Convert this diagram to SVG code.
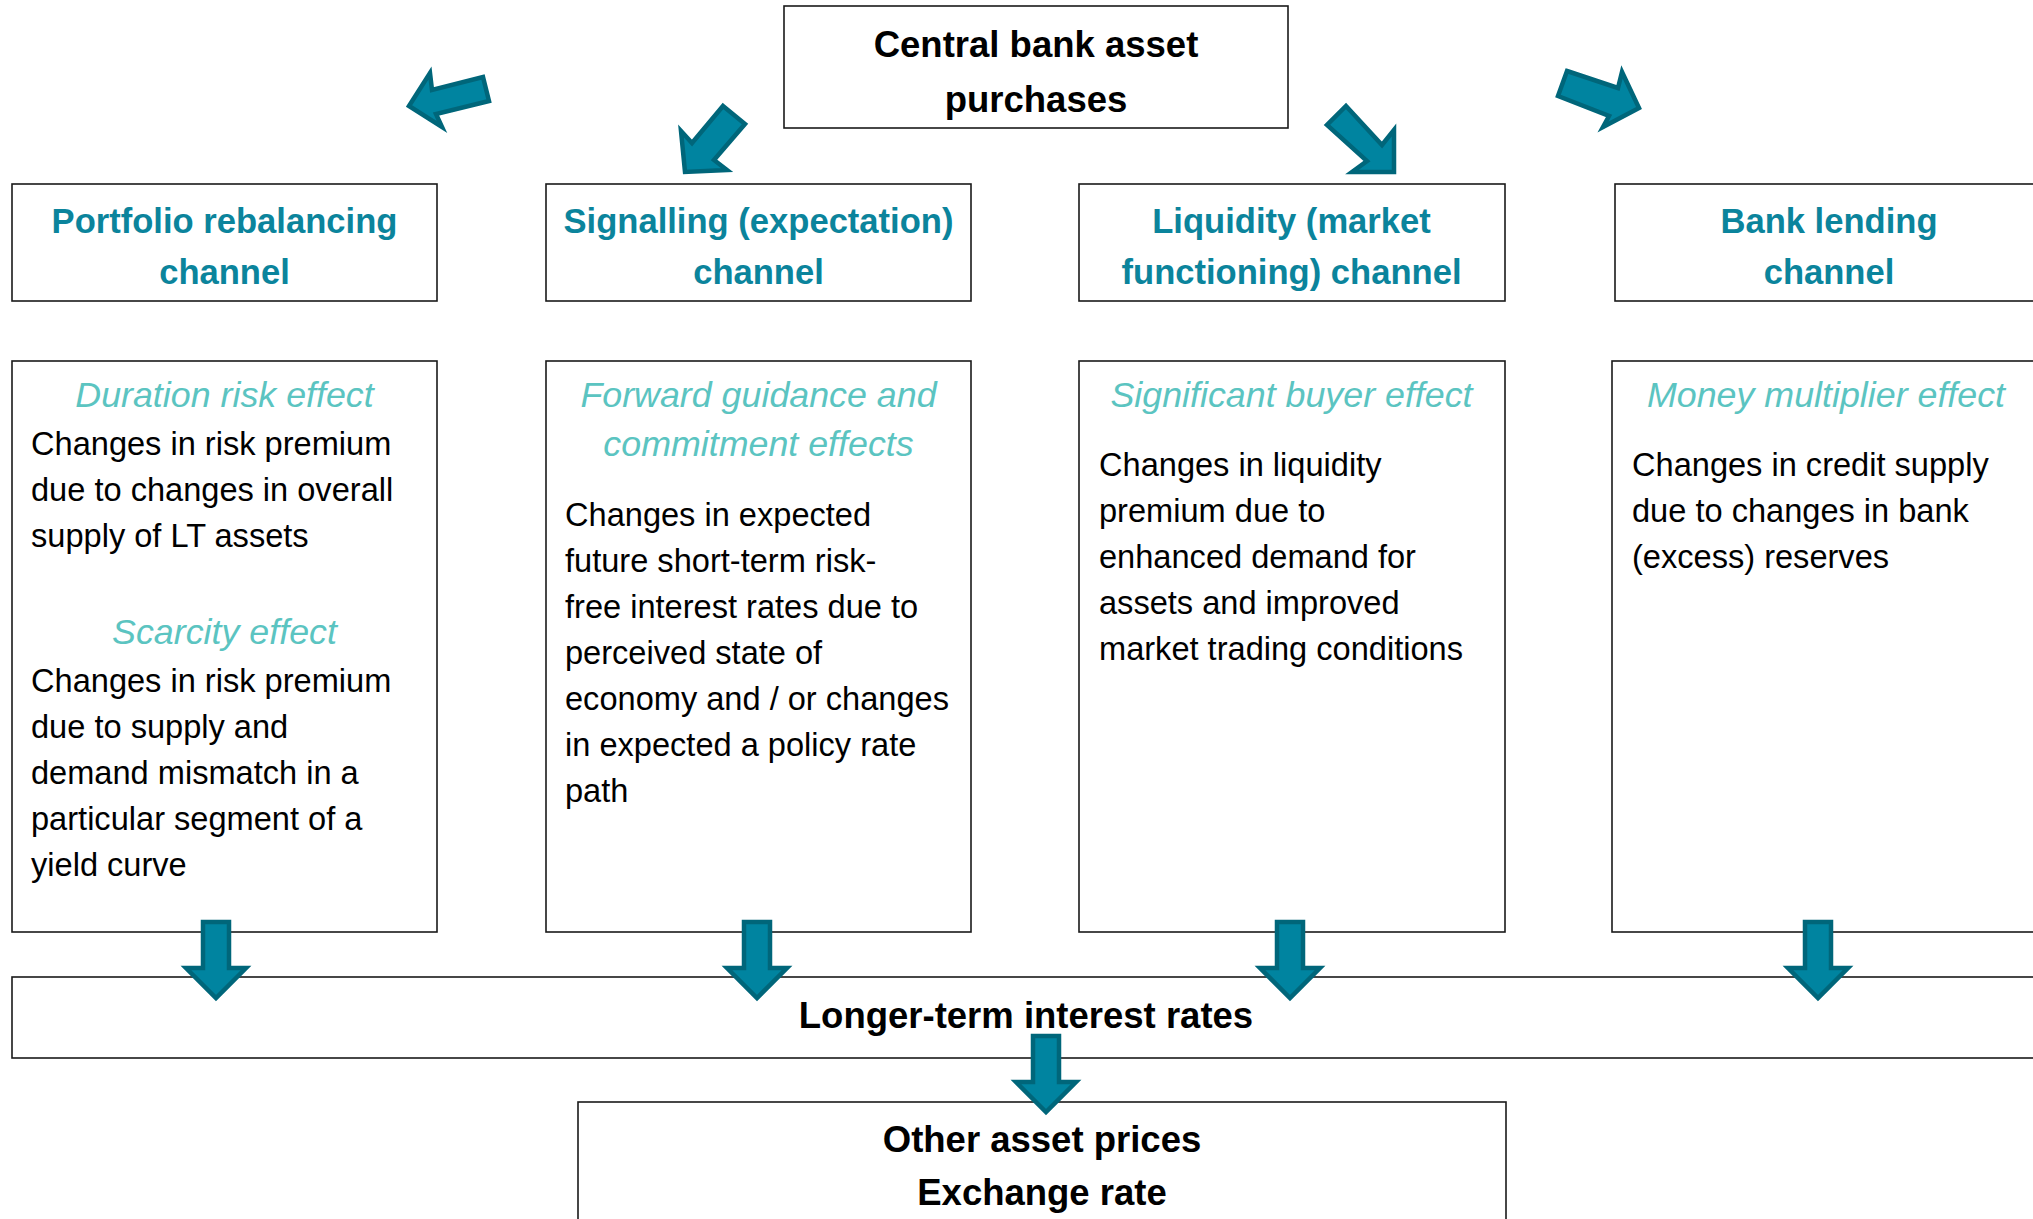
<svg xmlns="http://www.w3.org/2000/svg" width="2033" height="1219" viewBox="0 0 2033 1219">
<style>
.box{fill:#fff;stroke:#1a1a1a;stroke-width:1.6}
.title{font-family:"Liberation Sans",Arial,sans-serif;font-weight:bold;font-size:36.5px;fill:#000;text-anchor:middle}
.chan{font-family:"Liberation Sans",Arial,sans-serif;font-weight:bold;font-size:34.6px;fill:#0B849C;text-anchor:middle}
.eff{font-family:"Liberation Sans",Arial,sans-serif;font-style:italic;font-size:35.8px;fill:#5BC4C1;text-anchor:middle}
.body{font-family:"Liberation Sans",Arial,sans-serif;font-size:32.6px;fill:#000}
.arr{fill:#0084A0;stroke:#00667A;stroke-width:4.5;stroke-linejoin:miter}
</style>
<defs>
<path id="down" d="M-13,0 H13 V46 H30 L0,76 L-30,46 H-13 Z"/>
</defs>
<rect width="2033" height="1219" fill="#fff"/>

<g id="central">
<rect class="box" x="784" y="6" width="504" height="122"/>
<text class="title" x="1036" y="57">Central bank asset</text>
<text class="title" x="1036" y="112">purchases</text>
</g>

<g id="portfolio-channel">
<rect class="box" x="12" y="184" width="425" height="117"/>
<text class="chan" x="224.5" y="233">Portfolio rebalancing</text>
<text class="chan" x="224.5" y="284">channel</text>
</g>
<g id="signalling-channel">
<rect class="box" x="546" y="184" width="425" height="117"/>
<text class="chan" x="758.5" y="233">Signalling (expectation)</text>
<text class="chan" x="758.5" y="284">channel</text>
</g>
<g id="liquidity-channel">
<rect class="box" x="1079" y="184" width="426" height="117"/>
<text class="chan" x="1291.5" y="233">Liquidity (market</text>
<text class="chan" x="1291.5" y="284">functioning) channel</text>
</g>
<g id="bank-channel">
<rect class="box" x="1615" y="184" width="430" height="117"/>
<text class="chan" x="1829" y="233">Bank lending</text>
<text class="chan" x="1829" y="284">channel</text>
</g>

<g id="portfolio-effects">
<rect class="box" x="12" y="361" width="425" height="571"/>
<text class="eff" x="224.5" y="407">Duration risk effect</text>
<text class="body" x="31" y="455">Changes in risk premium</text>
<text class="body" x="31" y="501">due to changes in overall</text>
<text class="body" x="31" y="547">supply of LT assets</text>
<text class="eff" x="224.5" y="644">Scarcity effect</text>
<text class="body" x="31" y="692">Changes in risk premium</text>
<text class="body" x="31" y="738">due to supply and</text>
<text class="body" x="31" y="784">demand mismatch in a</text>
<text class="body" x="31" y="830">particular segment of a</text>
<text class="body" x="31" y="876">yield curve</text>
</g>
<g id="signalling-effects">
<rect class="box" x="546" y="361" width="425" height="571"/>
<text class="eff" x="758.5" y="407">Forward guidance and</text>
<text class="eff" x="758.5" y="456">commitment effects</text>
<text class="body" x="565" y="526">Changes in expected</text>
<text class="body" x="565" y="572">future short-term risk-</text>
<text class="body" x="565" y="618">free interest rates due to</text>
<text class="body" x="565" y="664">perceived state of</text>
<text class="body" x="565" y="710">economy and / or changes</text>
<text class="body" x="565" y="756">in expected a policy rate</text>
<text class="body" x="565" y="802">path</text>
</g>
<g id="liquidity-effects">
<rect class="box" x="1079" y="361" width="426" height="571"/>
<text class="eff" x="1291.5" y="407">Significant buyer effect</text>
<text class="body" x="1099" y="476">Changes in liquidity</text>
<text class="body" x="1099" y="522">premium due to</text>
<text class="body" x="1099" y="568">enhanced demand for</text>
<text class="body" x="1099" y="614">assets and improved</text>
<text class="body" x="1099" y="660">market trading conditions</text>
</g>
<g id="bank-effects">
<rect class="box" x="1612" y="361" width="430" height="571"/>
<text class="eff" x="1826" y="407">Money multiplier effect</text>
<text class="body" x="1632" y="476">Changes in credit supply</text>
<text class="body" x="1632" y="522">due to changes in bank</text>
<text class="body" x="1632" y="568">(excess) reserves</text>
</g>

<g id="longer-term-rates">
<rect class="box" x="12" y="977" width="2040" height="81"/>
<text class="title" x="1026" y="1028">Longer-term interest rates</text>
</g>
<g id="other-assets">
<rect class="box" x="578" y="1102" width="928" height="140"/>
<text class="title" x="1042" y="1152">Other asset prices</text>
<text class="title" x="1042" y="1205">Exchange rate</text>
</g>

<g id="connectors">
<polygon class="arr" points="409,106 430,73 432,90 483,77 489,101 436,114 442,127"/>
<polygon class="arr" points="723,106 745,124 714,160 727,170 685,172 681,131 692,143"/>
<polygon class="arr" points="1346,106 1382,145 1394,130 1394,172 1352,172 1367,161 1327,125"/>
<polygon class="arr" points="1567,71 1618,88 1622,72 1639,108 1603,127 1609,116 1558,96"/>
<use href="#down" class="arr" transform="translate(216,922)"/>
<use href="#down" class="arr" transform="translate(757,922)"/>
<use href="#down" class="arr" transform="translate(1290,922)"/>
<use href="#down" class="arr" transform="translate(1818,922)"/>
<use href="#down" class="arr" transform="translate(1046,1036)"/>
</g>
</svg>
